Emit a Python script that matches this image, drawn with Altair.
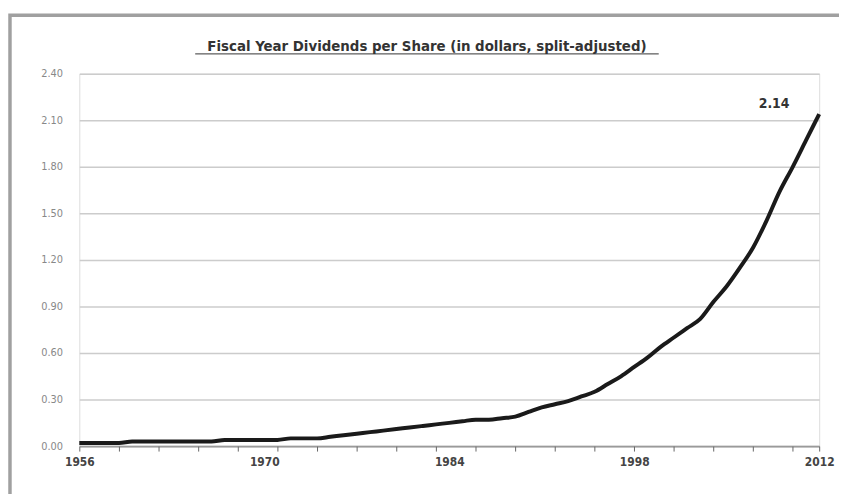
import altair as alt
import pandas as pd

years = list(range(1956, 2013))
dividends = [
    0.02, 0.02, 0.02, 0.02, 0.03, 0.03, 0.03, 0.03, 0.03, 0.03,   # 1956-1965
    0.03, 0.04, 0.04, 0.04, 0.04, 0.04, 0.05, 0.05, 0.05, 0.06,   # 1966-1975
    0.07, 0.08, 0.09, 0.10, 0.11, 0.12, 0.13, 0.14, 0.15, 0.16,   # 1976-1985
    0.17, 0.17, 0.18, 0.19, 0.22, 0.25, 0.27, 0.29, 0.32, 0.35,   # 1986-1995
    0.40, 0.45, 0.51, 0.57, 0.64, 0.70, 0.76, 0.82, 0.93, 1.03,   # 1996-2005
    1.15, 1.28, 1.45, 1.64, 1.80, 1.97, 2.14,                     # 2006-2012
]
label_years = [1956, 1970, 1984, 1998, 2012]
tick_years = list(range(1956, 2011, 3)) + [2012]
y_ticks = [0.0, 0.3, 0.6, 0.9, 1.2, 1.5, 1.8, 2.1, 2.4]
title_text = "Fiscal Year Dividends per Share (in dollars, split-adjusted)"
end_label = "2.14"

df = pd.DataFrame({"year": years, "dps": dividends})
last = df.tail(1).assign(label=end_label)

W, H = 747, 376
FONT = "DejaVu Sans Condensed"

x_scale = alt.Scale(domain=[1956, 2012], nice=False, zero=False)
y_scale = alt.Scale(domain=[0, 2.4], nice=False)

x_label_axis = alt.Axis(
    orient="bottom",
    values=label_years,
    title=None,
    grid=False,
    format="d",
    labelOverlap=False,
    labelFlush=False,
    labelFont=FONT,
    labelFontSize=12,
    labelFontWeight="bold",
    labelColor="#444444",
    labelPadding=11,
    ticks=False,
    domainColor="#9a9a9a",
    domainWidth=2,
)
x_tick_axis = alt.Axis(
    orient="bottom",
    values=tick_years,
    title=None,
    grid=False,
    labels=False,
    domain=False,
    tickSize=5,
    tickColor="#666666",
    tickWidth=1,
)
y_axis = alt.Axis(
    values=y_ticks,
    title=None,
    format=".2f",
    domain=False,
    ticks=False,
    grid=True,
    gridColor="#cccccc",
    gridWidth=1.5,
    labelFont=FONT,
    labelFontSize=11,
    labelColor="#888888",
    labelPadding=17,
)

line = alt.Chart(df).mark_line(color="#1a1a1a", strokeWidth=4, interpolate="monotone").encode(
    x=alt.X("year:Q", scale=x_scale, axis=x_label_axis),
    y=alt.Y("dps:Q", scale=y_scale, axis=y_axis),
)

tick_layer = alt.Chart(df).mark_line(opacity=0).encode(
    x=alt.X("year:Q", scale=x_scale, axis=x_tick_axis),
    y=alt.Y("dps:Q", scale=y_scale, axis=y_axis),
)

label = alt.Chart(last).mark_text(
    align="right", baseline="bottom", dx=-30, dy=-3,
    font=FONT, fontSize=14, fontWeight="bold", color="#333333",
).encode(
    x=alt.X("year:Q", scale=x_scale, axis=x_label_axis),
    y=alt.Y("dps:Q", scale=y_scale, axis=y_axis),
    text="label:N",
)

frame = alt.Chart(df.head(1)).mark_rect(fill=None, stroke="#a0a0a0", strokeWidth=3.5).encode(
    x=alt.value(-70), x2=alt.value(W + 100), y=alt.value(-59), y2=alt.value(H + 100)
)

title = alt.Chart(df.head(1)).mark_text(
    align="center", baseline="alphabetic", font=FONT, fontSize=15, fontWeight="bold", color="#333333",
).encode(x=alt.value(351), y=alt.value(-23), text=alt.value(title_text))

underline = alt.Chart(df.head(1)).mark_rule(color="#333333", strokeWidth=1).encode(
    x=alt.value(117), x2=alt.value(585), y=alt.value(-20)
)

base = alt.layer(line, label)
chart = alt.layer(frame, base, tick_layer, title, underline).resolve_axis(
    x="independent"
).properties(
    width=W, height=H,
    autosize=alt.AutoSizeParams(type="none"),
    padding={"left": 72, "top": 64, "right": 20, "bottom": 46},
).configure_view(stroke=None).configure(background="white")

chart.save("out.html", embed_options={"renderer": "svg", "actions": False})
